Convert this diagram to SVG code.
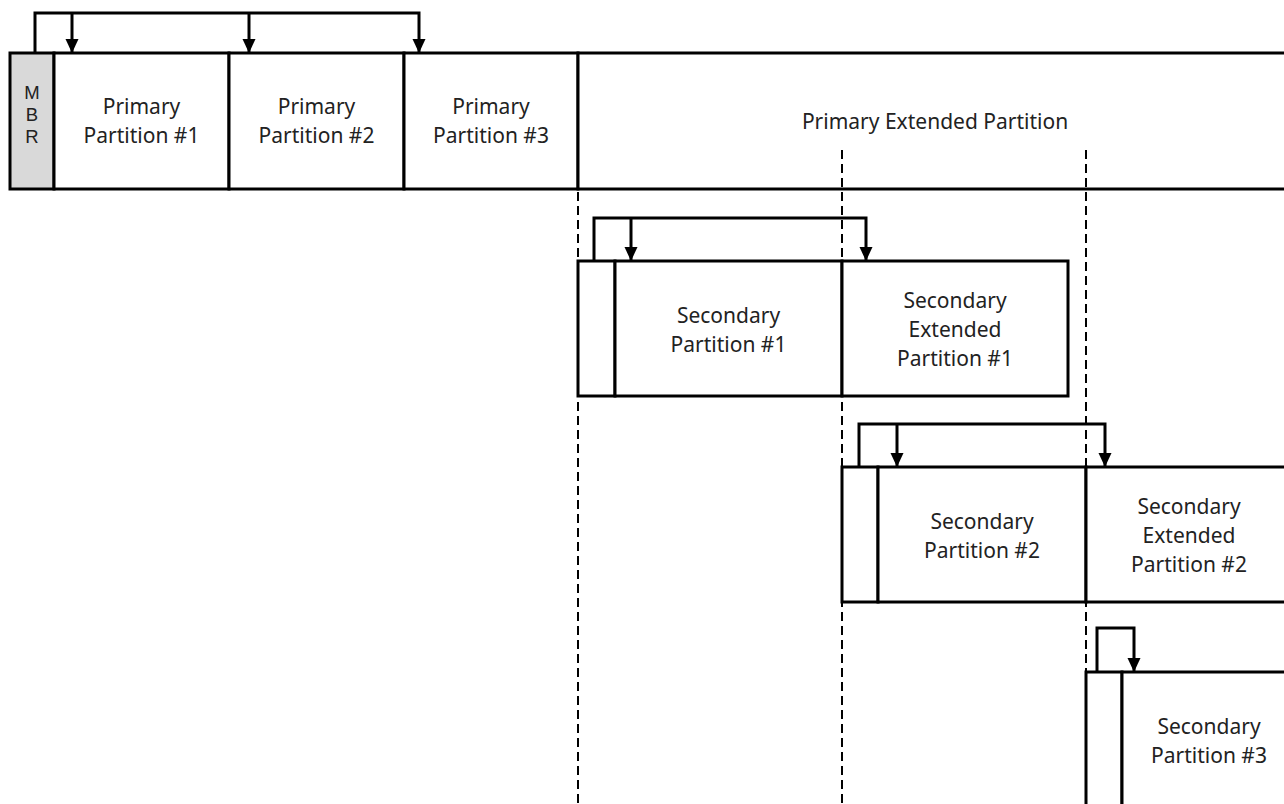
<svg xmlns="http://www.w3.org/2000/svg" width="1284" height="804" viewBox="0 0 1284 804">
<style>
.cell{fill:#fff;stroke:#000;stroke-width:3}
.mbr{fill:#d9d9d9;stroke:#000;stroke-width:3}
.lbl{font-family:"Noto Sans","Open Sans",sans-serif;font-size:21px;fill:#222;text-anchor:middle}
.mb{font-family:"Liberation Sans",Arial,sans-serif;font-size:18.5px;fill:#222;text-anchor:middle}
.con{fill:none;stroke:#000;stroke-width:3}
.guide{fill:none;stroke:#000;stroke-width:2;stroke-dasharray:9 5}
</style>
<defs>
<marker id="ah" markerUnits="userSpaceOnUse" markerWidth="15" markerHeight="15" refX="14" refY="6.5" orient="auto">
<path d="M0,0 L14,6.5 L0,13 z" fill="#000"/>
</marker>
</defs>
<rect width="1284" height="804" fill="#fff"/>

<g id="mbr">
<rect class="mbr" x="10" y="53" width="44" height="136"/>
<text class="mb" x="32" y="99">M</text>
<text class="mb" x="32" y="121">B</text>
<text class="mb" x="32" y="143">R</text>
</g>
<g id="primary1">
<rect class="cell" x="54" y="53" width="175" height="136"/>
<text class="lbl" x="141.5" y="114">Primary</text>
<text class="lbl" x="141.5" y="143">Partition #1</text>
</g>
<g id="primary2">
<rect class="cell" x="229" y="53" width="175" height="136"/>
<text class="lbl" x="316.5" y="114">Primary</text>
<text class="lbl" x="316.5" y="143">Partition #2</text>
</g>
<g id="primary3">
<rect class="cell" x="404" y="53" width="174" height="136"/>
<text class="lbl" x="491" y="114">Primary</text>
<text class="lbl" x="491" y="143">Partition #3</text>
</g>
<g id="primaryExt">
<rect class="cell" x="578" y="53" width="720" height="136"/>
<text class="lbl" x="935" y="129">Primary Extended Partition</text>
</g>

<g id="ebr1">
<rect class="cell" x="578" y="261" width="37" height="135"/>
</g>
<g id="secondary1">
<rect class="cell" x="615" y="261" width="227" height="135"/>
<text class="lbl" x="728.5" y="323">Secondary</text>
<text class="lbl" x="728.5" y="352">Partition #1</text>
</g>
<g id="secondaryExt1">
<rect class="cell" x="842" y="261" width="226" height="135"/>
<text class="lbl" x="955" y="308">Secondary</text>
<text class="lbl" x="955" y="337">Extended</text>
<text class="lbl" x="955" y="366">Partition #1</text>
</g>

<g id="ebr2">
<rect class="cell" x="842" y="467" width="36" height="135"/>
</g>
<g id="secondary2">
<rect class="cell" x="878" y="467" width="208" height="135"/>
<text class="lbl" x="982" y="529">Secondary</text>
<text class="lbl" x="982" y="558">Partition #2</text>
</g>
<g id="secondaryExt2">
<rect class="cell" x="1086" y="467" width="210" height="135"/>
<text class="lbl" x="1189" y="514">Secondary</text>
<text class="lbl" x="1189" y="543">Extended</text>
<text class="lbl" x="1189" y="572">Partition #2</text>
</g>

<g id="ebr3">
<rect class="cell" x="1086" y="672" width="36" height="140"/>
</g>
<g id="secondary3">
<rect class="cell" x="1122" y="672" width="175" height="140"/>
<text class="lbl" x="1209" y="734">Secondary</text>
<text class="lbl" x="1209" y="763">Partition #3</text>
</g>

<g id="guides">
<line class="guide" x1="578" y1="150" x2="578" y2="804"/>
<line class="guide" x1="842" y1="150" x2="842" y2="804"/>
<line class="guide" x1="1086" y1="150" x2="1086" y2="804"/>
</g>

<g id="connectors">
<path class="con" d="M35,53 V13 H419 V53" marker-end="url(#ah)"/>
<path class="con" d="M72,13 V53" marker-end="url(#ah)"/>
<path class="con" d="M249,13 V53" marker-end="url(#ah)"/>
<path class="con" d="M594,261 V218 H866 V261" marker-end="url(#ah)"/>
<path class="con" d="M631,218 V261" marker-end="url(#ah)"/>
<path class="con" d="M859,467 V424 H1105 V467" marker-end="url(#ah)"/>
<path class="con" d="M897,424 V467" marker-end="url(#ah)"/>
<path class="con" d="M1097,672 V628 H1134 V672" marker-end="url(#ah)"/>
</g>
</svg>
